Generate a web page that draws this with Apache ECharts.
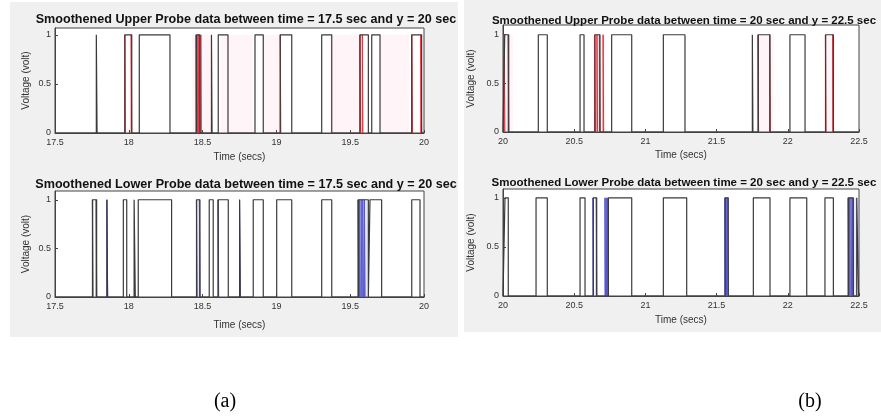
<!DOCTYPE html>
<html>
<head>
<meta charset="utf-8">
<script src="https://cdn.jsdelivr.net/npm/echarts@6/dist/echarts.min.js"></script>
<style>
html,body{margin:0;padding:0;background:#fff;}
#chart{width:881px;height:419px;}
</style>
</head>
<body>
<div id="chart"></div>
<script>
// ---- tick labels / ranges ----
const xTicksA = [17.5, 18, 18.5, 19, 19.5, 20];
const xTicksB = [20, 20.5, 21, 21.5, 22, 22.5];
const yTicks = [0, 0.5, 1];

// ---- smoothened pulses (start, end) in secs, value 1 inside ----
const upperA_smooth = [
  [17.780, 17.785], [17.974, 18.020], [18.071, 18.279], [18.458, 18.482],
  [18.560, 18.564], [18.606, 18.672], [18.855, 18.911], [19.026, 19.104],
  [19.307, 19.375], [19.566, 19.623], [19.646, 19.702], [19.917, 19.984]
];
const lowerA_smooth = [
  [17.755, 17.782], [17.852, 17.856], [17.963, 17.986], [18.036, 18.044],
  [18.064, 18.290], [18.460, 18.482], [18.545, 18.572], [18.606, 18.674],
  [18.751, 18.755], [18.843, 18.911], [19.002, 19.104], [19.307, 19.375],
  [19.555, 19.623], [19.634, 19.713], [19.917, 19.973]
];
const upperB_smooth = [
  [20.012, 20.040], [20.248, 20.311], [20.541, 20.569], [20.646, 20.681],
  [20.763, 20.904], [21.126, 21.278], [21.751, 21.755], [21.793, 21.875],
  [22.015, 22.121], [22.266, 22.320]
];
const lowerB_smooth = [
  [20.014, 20.037], [20.232, 20.311], [20.541, 20.576], [20.634, 20.658],
  [20.740, 20.904], [21.126, 21.290], [21.560, 21.582], [21.758, 21.875],
  [22.015, 22.133], [22.261, 22.320], [22.425, 22.460], [22.484, 22.497]
];

// ---- raw probe spikes ----
const upperA_raw = [
  [17.972, 17.976], [18.016, 18.020], [18.455, 18.459], [18.462, 18.466],
  [18.470, 18.474], [18.478, 18.484], [18.488, 18.491], [19.026, 19.030],
  [19.566, 19.571], [19.582, 19.586], [19.917, 19.922], [19.978, 19.984]
];
const lowerA_raw = [
  [17.753, 17.758], [17.778, 17.783], [17.851, 17.857], [18.458, 18.463],
  [18.478, 18.483], [18.604, 18.609], [18.750, 18.756], [19.553, 19.558],
  [19.563, 19.568], [19.574, 19.579], [19.585, 19.590], [19.596, 19.601]
];
const upperB_raw = [
  [20.008, 20.013], [20.036, 20.041], [20.643, 20.648], [20.660, 20.664],
  [20.677, 20.682], [20.703, 20.707], [21.790, 21.795], [21.872, 21.877],
  [22.264, 22.268], [22.316, 22.321]
];
const lowerB_raw = [
  [20.632, 20.636], [20.655, 20.659], [20.716, 20.720], [20.724, 20.728],
  [20.733, 20.738], [21.558, 21.562], [21.566, 21.570], [21.575, 21.583],
  [22.424, 22.428], [22.434, 22.438], [22.444, 22.448], [22.455, 22.461]
];

// ---- faint shading of dense raw data ----
const upperA_shade = [[18.43, 18.57], [18.62, 18.84], [18.91, 19.02], [19.36, 19.57], [19.70, 19.90]];
const lowerA_shade = [[19.55, 19.62]];
const upperB_shade = [[19.99, 20.07], [20.63, 20.72], [21.78, 21.90], [22.26, 22.33]];
const lowerB_shade = [[21.555, 21.585], [22.42, 22.50]];

const titles = [
  'Smoothened Upper Probe data between time = 17.5 sec and y = 20 sec',
  'Smoothened Lower Probe data between time = 17.5 sec and y = 20 sec',
  'Smoothened Upper Probe data between time = 20 sec and y = 22.5 sec',
  'Smoothened Lower Probe data between time = 20 sec and y = 22.5 sec'
];

function steps(pulses, xmin, xmax) {
  const pts = [[xmin, 0]];
  pulses.forEach(p => { pts.push([p[0], 0], [p[0], 1], [p[1], 1], [p[1], 0]); });
  pts.push([xmax, 0]);
  return pts;
}
function spikes(pulses) {
  const pts = [];
  pulses.forEach(p => { pts.push([p[0], 0], [p[0], 1], [p[1], 1], [p[1], 0], null); });
  return pts;
}

const font = "'Liberation Sans', Arial, Helvetica, sans-serif";
const grids = [
  {left: 55, top: 28, width: 369, height: 105},
  {left: 55, top: 191, width: 369, height: 106},
  {left: 503, top: 25, width: 356, height: 107},
  {left: 503, top: 189, width: 356, height: 107}
];
const ranges = [[17.5, 20], [17.5, 20], [20, 22.5], [20, 22.5]];
const yMax = [1.07, 1.09, 1.10, 1.09];
const nameGapsX = [19, 23, 18, 19];
const nameGapsY = [24, 24, 27, 27];
const smooth = [upperA_smooth, lowerA_smooth, upperB_smooth, lowerB_smooth];
const raw = [upperA_raw, lowerA_raw, upperB_raw, lowerB_raw];
const shade = [upperA_shade, lowerA_shade, upperB_shade, lowerB_shade];
const rawColor = ['#e2323f', '#5555cc', '#e2323f', '#5555cc'];
const shadeColor = ['rgba(255,120,150,0.07)', 'rgba(120,120,230,0.18)', 'rgba(255,120,150,0.08)', 'rgba(120,120,230,0.16)'];

const option = {
  animation: false,
  backgroundColor: '#ffffff',
  graphic: [
    {type: 'rect', shape: {x: 10, y: 2, width: 448, height: 335}, style: {fill: '#f0f0f0'}, z: -10},
    {type: 'rect', shape: {x: 464, y: 0, width: 417, height: 332}, style: {fill: '#f0f0f0'}, z: -10},
    {type: 'text', x: 225, y: 402, style: {text: '(a)', font: "20px 'Liberation Serif', 'Times New Roman', serif", fill: '#000', textAlign: 'center', textVerticalAlign: 'middle'}},
    {type: 'text', x: 810, y: 402, style: {text: '(b)', font: "20px 'Liberation Serif', 'Times New Roman', serif", fill: '#000', textAlign: 'center', textVerticalAlign: 'middle'}}
  ],
  title: [
    {text: titles[0], left: 241, top: 8, textAlign: 'center'},
    {text: titles[1], left: 241, top: 173, textAlign: 'center'},
    {text: titles[2], left: 679, top: 10, textAlign: 'center'},
    {text: titles[3], left: 679, top: 172, textAlign: 'center'}
  ].map((t, i) => Object.assign(t, {textStyle: {fontFamily: font, fontWeight: 'bold', fontSize: i < 2 ? 12.6 : 11.5, color: '#111'}})),
  grid: grids.map(g => Object.assign({show: true, backgroundColor: '#fff', borderColor: '#444', borderWidth: 1}, g)),
  xAxis: grids.map((g, i) => ({
    type: 'value', gridIndex: i, min: ranges[i][0], max: ranges[i][1], interval: 0.5,
    name: 'Time (secs)', nameLocation: 'middle', nameGap: nameGapsX[i],
    nameTextStyle: {fontFamily: font, fontSize: 10, color: '#333'},
    axisLine: {show: true, lineStyle: {color: '#444'}},
    axisTick: {show: true, inside: true, length: 3, lineStyle: {color: '#444'}},
    axisLabel: {fontFamily: font, fontSize: 9, color: '#333', margin: 5, formatter: v => String(v)},
    splitLine: {show: false}
  })),
  yAxis: grids.map((g, i) => ({
    type: 'value', gridIndex: i, min: 0, max: yMax[i],
    name: 'Voltage (volt)', nameLocation: 'middle', nameGap: nameGapsY[i],
    nameTextStyle: {fontFamily: font, fontSize: 10, color: '#333'},
    axisLine: {show: true, lineStyle: {color: '#444'}},
    axisTick: {show: true, inside: true, length: 3, customValues: yTicks, lineStyle: {color: '#444'}},
    axisLabel: {fontFamily: font, fontSize: 9, color: '#333', margin: 4, customValues: yTicks, formatter: v => String(v)},
    splitLine: {show: false}
  })),
  series: []
};

for (let i = 0; i < 4; i++) {
  option.series.push({
    type: 'line', xAxisIndex: i, yAxisIndex: i, showSymbol: false, silent: true, connectNulls: false,
    data: spikes(raw[i]),
    lineStyle: {color: rawColor[i], width: 1}, z: 2,
    markArea: {silent: true, itemStyle: {color: shadeColor[i]},
      data: shade[i].map(s => [{xAxis: s[0], yAxis: 0}, {xAxis: s[1], yAxis: 1}])}
  });
  option.series.push({
    type: 'line', xAxisIndex: i, yAxisIndex: i, showSymbol: false, silent: true,
    data: steps(smooth[i], ranges[i][0], ranges[i][1]),
    lineStyle: {color: '#3a3a3a', width: 1.2}, z: 3
  });
}

const chart = echarts.init(document.getElementById('chart'), null, {renderer: 'canvas'});
chart.setOption(option);
</script>
</body>
</html>
